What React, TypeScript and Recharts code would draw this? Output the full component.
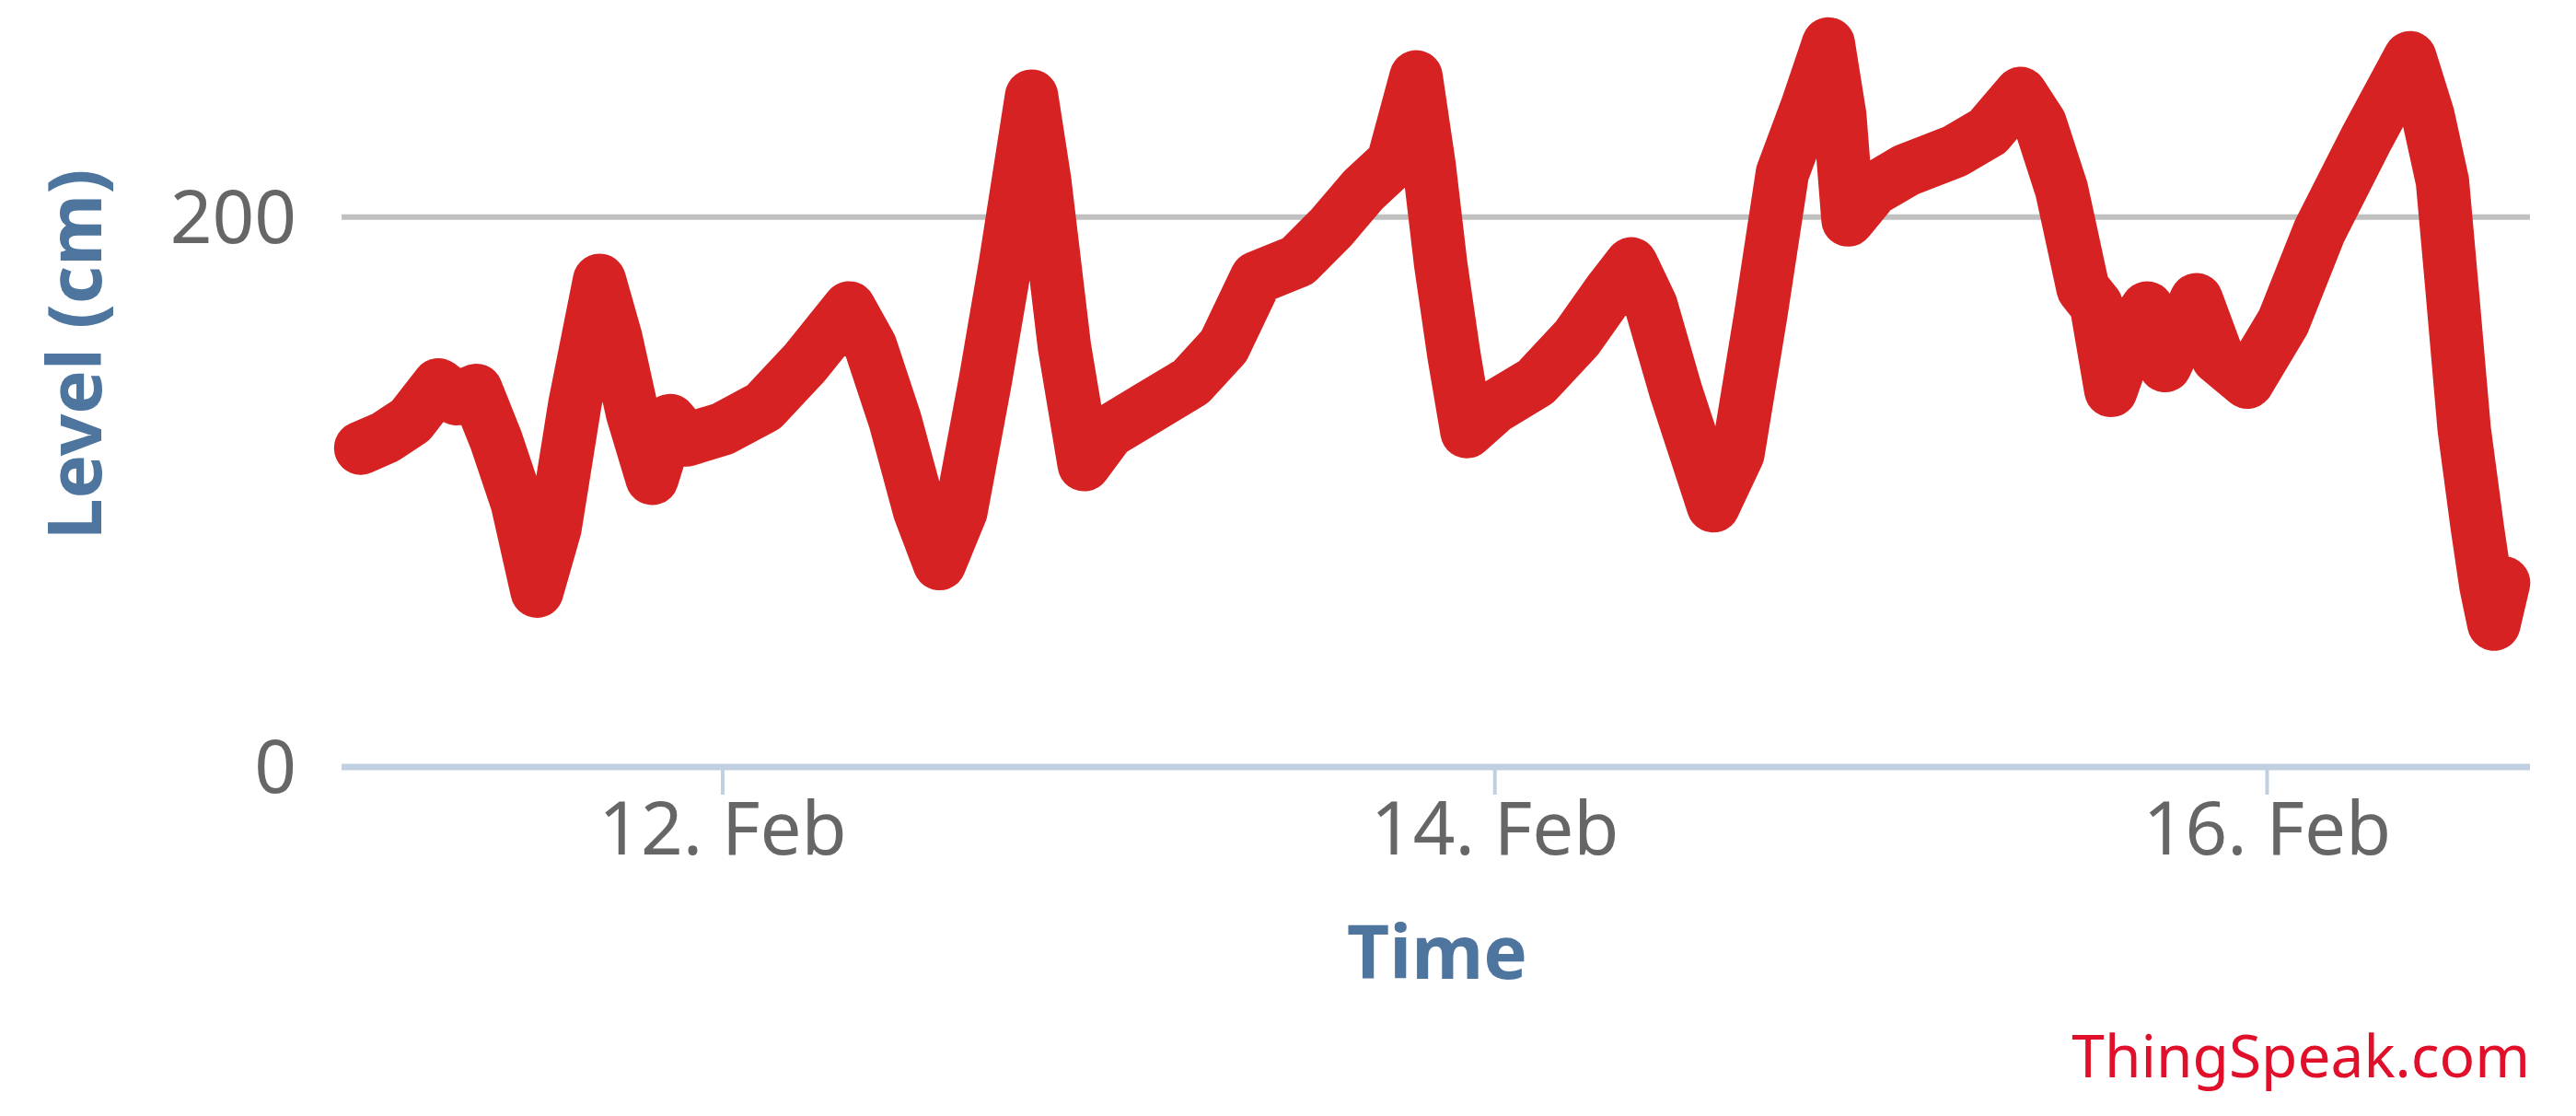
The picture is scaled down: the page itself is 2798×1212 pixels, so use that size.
import { LineChart, Line, XAxis, YAxis, CartesianGrid } from 'recharts';

// hours after 11 Feb 00:00
const times = [
  1.5, 3.06, 4.6, 6.33, 7.46, 8.68, 9.91, 11.23, 12.46, 13.58, 14.81, 16.34, 17.36, 18.38, 19.61,
  20.73, 21.75, 24.0, 26.55, 29.11, 31.86, 33.19, 34.72, 36.25, 37.48, 38.81, 40.34, 41.57, 43.2,
  44.02, 45.24, 46.47, 48.0, 50.55, 53.11, 55.15, 57.19, 59.74, 61.79, 63.83, 65.67, 67.1, 67.91,
  68.63, 69.45, 70.26, 72.0, 74.55, 77.1, 79.15, 80.48, 81.7, 83.23, 85.58, 87.11, 88.54, 89.87,
  91.4, 92.73, 93.44, 93.95, 95.49, 97.53, 100.59, 102.64, 104.68, 105.9, 107.23, 108.56, 109.38,
  110.29, 111.62, 112.54, 113.66, 115.6, 116.93, 118.77, 121.02, 123.26, 126.12, 128.88, 130.0,
  130.9, 131.54, 132.25, 133.07, 133.6, 134.1, 134.7,
];

// water level, cm
const levels = [
  116, 120, 126, 139, 134, 137, 119, 96, 64, 87, 132, 177, 156, 129, 105,
  126, 119, 123, 131, 147, 167, 153, 126, 93, 74, 93, 141, 183, 244,
  213, 153, 110, 122, 131, 140, 153, 178, 184, 196, 210, 220, 251, 219,
  183, 150, 122, 131, 140, 156, 173, 183, 168, 137, 95, 114, 165, 216,
  240, 263, 237, 199, 210, 217, 224, 231, 245, 234, 210, 174, 168,
  137, 159, 167, 146, 170, 149, 140, 162, 195, 228, 258, 237,
  213, 171, 123, 87, 66, 52, 67,
];

const xTicks = [24, 72, 120];
const yTicks = [0, 200];
const gridValues = [200];

const data = times.map((t, i) => ({ t, level: levels[i] }));

const font = '"Noto Sans", "Open Sans", Arial, sans-serif';
const titleColor = '#4d759e';
const lineColor = '#d62222';

const fmtDay = (h: number) => `${11 + h / 24}. Feb`;

const App = () => {
  return (
    <div style={{ position: 'absolute', left: 0, top: 0, width: 2798, height: 1212, background: '#fff' }}>
      <LineChart
        width={2798}
        height={1212}
        data={data}
        margin={{ top: 0, right: 50, bottom: 0, left: 0 }}
      >
        <CartesianGrid
          vertical={false}
          horizontalValues={gridValues}
          stroke="#c0c0c0"
          strokeWidth={6}
        />
        <XAxis
          dataKey="t"
          type="number"
          domain={[0.31, 136.34]}
          ticks={xTicks}
          tickFormatter={fmtDay}
          height={379}
          axisLine={{ stroke: '#c0d0e0', strokeWidth: 7 }}
          tickLine={{ stroke: '#c0d0e0', strokeWidth: 4 }}
          tickSize={30}
          tickMargin={8}
          tick={{ fill: '#666', fontSize: 80, fontFamily: font }}
          label={{
            content: () => (
              <text
                x={1561}
                y={1031}
                textAnchor="middle"
                dominantBaseline="central"
                fill={titleColor}
                fontSize={80}
                fontWeight="bold"
                fontFamily={font}
              >
                Time
              </text>
            ),
          }}
        />
        <YAxis
          type="number"
          domain={[0, 279]}
          ticks={yTicks}
          width={371}
          axisLine={false}
          tickLine={false}
          tickSize={30}
          tickMargin={19}
          tick={{ fill: '#666', fontSize: 80, fontFamily: font }}
          label={{
            content: () => (
              <text
                x={78}
                y={385}
                transform="rotate(-90 78 385)"
                textAnchor="middle"
                dominantBaseline="central"
                fill={titleColor}
                fontSize={80}
                fontWeight="bold"
                fontFamily={font}
              >
                Level (cm)
              </text>
            ),
          }}
        />
        <Line
          type="linear"
          dataKey="level"
          stroke={lineColor}
          strokeWidth={58}
          strokeLinejoin="round"
          strokeLinecap="round"
          dot={false}
          activeDot={false}
          isAnimationActive={false}
        />
      </LineChart>
      <div
        style={{
          position: 'absolute',
          right: 50,
          top: 1108,
          fontFamily: font,
          fontSize: 64,
          lineHeight: '76px',
          color: '#e0102a',
        }}
      >
        ThingSpeak.com
      </div>
    </div>
  );
};

export default App;
